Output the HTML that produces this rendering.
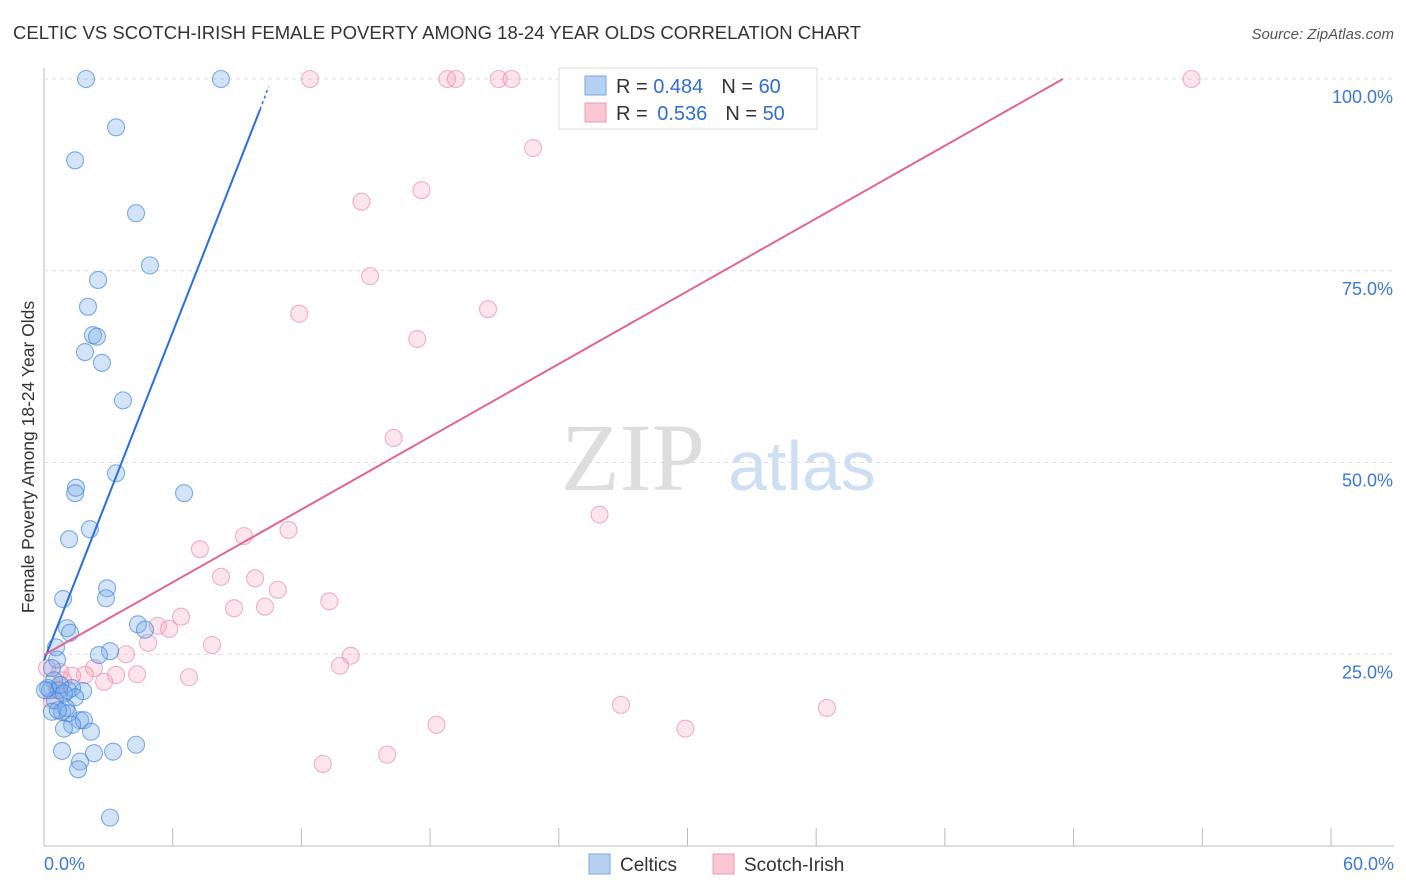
<!DOCTYPE html>
<html><head><meta charset="utf-8"><style>
body{margin:0;background:#fff;font-family:"Liberation Sans",sans-serif;}
svg{display:block}
</style></head><body>
<svg id="c" width="1406" height="892">
<text x="13" y="39" font-size="18.5" fill="#333">CELTIC VS SCOTCH-IRISH FEMALE POVERTY AMONG 18-24 YEAR OLDS CORRELATION CHART</text>
<text x="1394" y="39" font-size="15" fill="#555" font-style="italic" text-anchor="end">Source: ZipAtlas.com</text>
<text transform="translate(34,457) rotate(-90)" font-size="17.5" fill="#333" text-anchor="middle">Female Poverty Among 18-24 Year Olds</text>
<g><text x="633" y="490" font-size="96" fill="#ddd" font-family="Liberation Serif,serif" text-anchor="middle">ZIP</text><text x="802" y="490" font-size="70" fill="#cfdff3" text-anchor="middle">atlas</text></g>
<g id="grid"></g><g id="marks"></g>
<g>
<rect x="559" y="68" width="258" height="61" fill="#fff" stroke="#ddd"/>
<rect x="585" y="76" width="21" height="19" fill="#b7d1f3" stroke="#7aa7e0"/>
<rect x="585" y="103" width="21" height="19" fill="#f9c6d4" stroke="#ec9db4"/>
<text x="616" y="93" font-size="20" fill="#333">R = <tspan fill="#2f6fd0">0.484</tspan><tspan dx="18">N = </tspan><tspan fill="#2f6fd0">60</tspan></text>
<text x="616" y="120" font-size="20" fill="#333">R = <tspan fill="#2f6fd0" dx="4">0.536</tspan><tspan dx="18">N = </tspan><tspan fill="#2f6fd0">50</tspan></text>
</g>
<g>
<rect x="589" y="854" width="21" height="20" fill="#b7d1f3" stroke="#7aa7e0"/>
<text x="620" y="871" font-size="19" fill="#333">Celtics</text>
<rect x="713" y="854" width="21" height="20" fill="#f9c6d4" stroke="#ec9db4"/>
<text x="744" y="871" font-size="19" fill="#333">Scotch-Irish</text>
</g>
</svg>
<script>
const xTicks=[0,6,12,18,24,30,36,42,48,54,60];
const yTicks=[25,50,75,100];
const celticX=[1.96,8.25,3.36,1.45,4.29,4.94,2.52,2.05,2.28,2.47,1.91,2.70,3.68,3.36,6.53,1.49,1.45,2.14,1.17,2.94,2.89,0.89,1.07,1.21,4.38,4.71,0.56,3.08,2.56,0.61,0.37,0.47,0.28,0.70,1.12,1.82,1.31,0.51,1.45,0.37,0.84,1.03,1.12,1.68,1.86,2.19,1.31,0.93,0.84,2.33,3.22,4.29,1.68,1.59,3.08,0.65,0.19,0.75,0.93,0.05];
const celticY=[100,100,93.7,89.4,82.5,75.7,73.8,70.3,66.6,66.4,64.4,63.0,58.1,48.6,46.0,46.7,46.0,41.3,40.0,33.6,32.3,32.2,28.4,27.8,28.9,28.2,25.9,25.4,24.9,24.3,23.2,21.6,20.3,20.3,20.3,20.2,20.6,19.0,19.4,17.5,17.5,18.0,17.3,16.4,16.4,14.9,15.8,15.3,12.4,12.1,12.3,13.2,11.0,10.0,3.7,17.7,20.6,21.0,19.9,20.3];
const scotchX=[12.4,18.8,19.2,21.2,21.8,53.5,22.8,17.6,14.8,15.2,11.9,20.7,17.4,16.3,25.9,9.32,11.4,7.27,8.25,9.84,10.9,8.86,10.3,13.3,6.39,5.31,5.83,4.85,7.83,3.82,2.33,14.3,13.8,6.76,4.34,3.36,2.80,1.91,1.31,0.89,0.61,0.37,26.9,36.5,18.3,29.9,16.0,13.0,0.14,0.75];
const scotchY=[100,100,100,100,100,100,91.0,85.5,84.0,74.3,69.4,70.0,66.1,53.2,43.2,40.4,41.2,38.7,35.1,34.9,33.4,31.0,31.2,31.9,29.9,28.7,28.3,26.5,26.2,25.0,23.2,24.8,23.5,22.0,22.4,22.3,21.4,22.3,22.2,21.6,20.3,19.0,18.4,18.0,15.8,15.3,11.9,10.7,23.2,22.7];
const celticLine=[[0,24.2],[10.07,96]];
const scotchLine=[[0,24.9],[47.5,100]];
const X=v=>44+v/60*1287, Y=v=>846-v*7.67;
const NS='http://www.w3.org/2000/svg';
function mk(tag,attrs,parent){const e=document.createElementNS(NS,tag);for(const k in attrs)e.setAttribute(k,attrs[k]);parent.appendChild(e);return e;}
const g=document.getElementById('grid'),m=document.getElementById('marks');
let a=mk('line',{x1:44,y1:68,x2:44,y2:846,stroke:'#bbb'},g);


a=mk('line',{x1:44,y1:846,x2:1394,y2:846,stroke:'#bbb'},g);


yTicks.forEach(t=>{const l=mk('line',{x1:44,y1:Y(t),x2:1394,y2:Y(t),stroke:'#ddd','stroke-dasharray':'4,4'},g);


const tx=mk('text',{x:1393,y:Y(t)+24,'font-size':18,fill:'#3b78d8','text-anchor':'end'},g);tx.textContent=t.toFixed(1)+'%';

});
xTicks.forEach(t=>{if(t>0){const l=mk('line',{x1:X(t),y1:828,x2:X(t),y2:846,stroke:'#bbb'},g);

}});
[[0,'start',44],[60,'end',1394]].forEach(([t,an,px])=>{const tx=mk('text',{x:px,y:870,'font-size':18,fill:'#3b78d8','text-anchor':an},g);tx.textContent=t.toFixed(1)+'%';

});
function pts(xs,ys,fill,stroke,name){xs.forEach((x,i)=>{const c=mk('circle',{cx:X(x),cy:Y(ys[i]),r:8.5,fill:fill,stroke:stroke,'stroke-width':1.1},m);

});}
pts(scotchX,scotchY,'rgba(244,160,188,0.28)','rgba(232,130,162,0.6)','scotch-irish-point');
pts(celticX,celticY,'rgba(120,170,232,0.32)','rgba(60,130,215,0.65)','celtic-point');
let ln=mk('line',{x1:X(celticLine[0][0]),y1:Y(celticLine[0][1]),x2:X(celticLine[1][0]),y2:Y(celticLine[1][1]),stroke:'#2a6fd6','stroke-width':2},m);


ln=mk('line',{x1:X(celticLine[1][0]),y1:Y(celticLine[1][1]),x2:X(celticLine[1][0]+0.4),y2:Y(celticLine[1][1]+3),stroke:'#2a6fd6','stroke-width':1.5,'stroke-dasharray':'3,3'},m);


ln=mk('line',{x1:X(scotchLine[0][0]),y1:Y(scotchLine[0][1]),x2:X(scotchLine[1][0]),y2:Y(scotchLine[1][1]),stroke:'#e0668f','stroke-width':2},m);


</script>
</body></html>
